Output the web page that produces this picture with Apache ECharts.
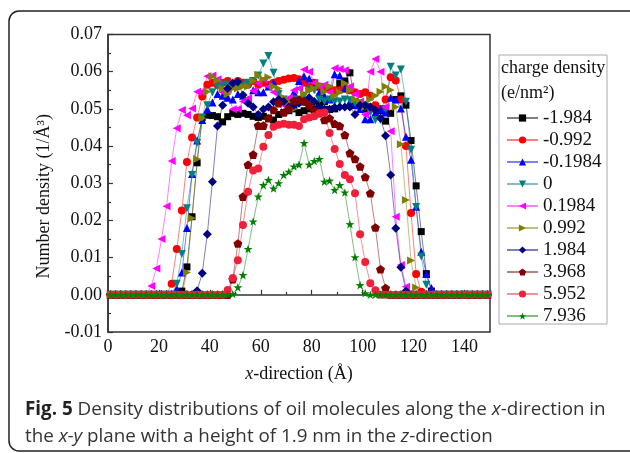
<!DOCTYPE html>
<html>
<head>
<meta charset="utf-8">
<script src="https://cdn.jsdelivr.net/npm/echarts@6/dist/echarts.min.js"></script>
<style>
  html, body { margin: 0; padding: 0; background: #fff; }
  #chart { width: 630px; height: 453px; }
</style>
</head>
<body>
<div id="chart"></div>
<script>
// x positions (Å)
const xs = [1,3,5,7,9,11,13,15,17,19,21,23,25,27,29,
  31,33,35,37,39,41,43,45,47,49,51,53,55,57,59,
  61,63,65,67,69,71,73,75,77,79,81,83,85,87,89,
  91,93,95,97,99,101,103,105,107,109,111,113,115,117,119,
  121,123,125,127,129,131,133,135,137,139,141,143,145,147,149];

const chargeLabels = ['-1.984', '-0.992', '-0.1984', '0', '0.1984', '0.992', '1.984', '3.968', '5.952', '7.936'];

// number density (1/Å^3), one array per surface charge density
const dNeg1984 = [0,0,0,0,0,0,0,0,0,0,0,0,0,0,0.001,
  0.0075,0.021,0.0355,0.0477,0.0483,0.0482,0.0479,0.0465,0.0479,0.0488,0.0485,0.0488,0.0485,0.048,0.0477,
  0.048,0.0475,0.047,0.0485,0.049,0.0495,0.05,0.049,0.0495,0.05,0.05,0.051,0.052,0.0498,0.05,
  0.0568,0.0575,0.0597,0.052,0.051,0.05,0.0505,0.05,0.0495,0.0467,0.0488,0.0525,0.0535,0.051,0.0415,
  0.0293,0.017,0.0057,0.001,0,0,0,0,0,0,0,0,0,0,0];
const dNeg0992 = [0,0,0,0,0,0,0,0,0,0,0,0,0.003,0.0123,0.0227,
  0.0357,0.0423,0.0477,0.0533,0.0565,0.057,0.0565,0.057,0.0575,0.0565,0.0575,0.057,0.0565,0.0575,0.0565,
  0.057,0.0565,0.057,0.0575,0.0578,0.0582,0.0583,0.058,0.057,0.056,0.057,0.056,0.0555,0.0555,0.055,
  0.055,0.0555,0.055,0.0545,0.054,0.0545,0.0535,0.051,0.05,0.0525,0.0585,0.0576,0.0525,0.04,0.022,
  0.0056,0.0008,0,0,0,0,0,0,0,0,0,0,0,0,0];
const dNeg01984 = [0,0,0,0,0,0,0,0,0,0,0,0,0,0.0016,0.006,
  0.018,0.0325,0.0415,0.047,0.0499,0.0517,0.054,0.0535,0.053,0.0525,0.054,0.0535,0.0525,0.055,0.0545,
  0.0545,0.056,0.057,0.052,0.0525,0.0515,0.0545,0.0575,0.0588,0.0582,0.056,0.0545,0.0535,0.0525,0.0593,
  0.059,0.0555,0.052,0.051,0.05,0.0472,0.0472,0.049,0.05,0.049,0.053,0.0525,0.0501,0.0425,0.0363,
  0.0237,0.0116,0.0056,0.0018,0,0,0,0,0,0,0,0,0,0,0];
const dZero = [0,0,0,0,0,0,0,0,0,0,0,0,0,0.003,0.011,
  0.0233,0.0322,0.0408,0.0477,0.051,0.0545,0.056,0.0565,0.0565,0.056,0.0565,0.0565,0.057,0.0575,0.059,
  0.0622,0.0642,0.0597,0.054,0.0525,0.052,0.0525,0.052,0.0535,0.055,0.055,0.0525,0.052,0.0525,0.052,
  0.052,0.0525,0.0523,0.0515,0.051,0.0505,0.049,0.047,0.047,0.05,0.0613,0.059,0.0606,0.0519,0.039,
  0.0236,0.0103,0.0027,0,0,0,0,0,0,0,0,0,0,0,0];
const dPos01984 = [0,0,0,0,0,0,0,0,0.0024,0.0071,0.015,0.0238,0.036,0.0448,0.0497,
  0.0483,0.0501,0.0546,0.0546,0.0588,0.059,0.058,0.0545,0.0552,0.0499,0.05,0.052,0.0528,0.0549,0.0569,
  0.058,0.056,0.0545,0.052,0.051,0.053,0.055,0.0555,0.0606,0.06,0.057,0.056,0.0565,0.0545,0.0609,
  0.0607,0.0604,0.056,0.054,0.052,0.0485,0.06,0.0634,0.06,0.0505,0.044,0.021,0.008,0.0022,0,
  0,0,0,0,0,0,0,0,0,0,0,0,0,0,0];
const dPos0992 = [0,0,0,0,0,0,0,0,0,0,0,0,0,0,0,
  0.006,0.0206,0.0365,0.0475,0.0546,0.0588,0.0577,0.0555,0.054,0.0555,0.0555,0.056,0.056,0.0575,0.0591,
  0.058,0.0585,0.056,0.0555,0.053,0.052,0.05,0.0515,0.054,0.055,0.0555,0.0565,0.0546,0.056,0.0535,
  0.0545,0.0569,0.055,0.0525,0.052,0.0505,0.0525,0.0535,0.0546,0.056,0.0551,0.0505,0.0405,0.0255,0.0092,
  0.002,0,0,0,0,0,0,0,0,0,0,0,0,0,0];
const dPos1984 = [0,0,0,0,0,0,0,0,0,0,0,0,0,0,0,
  0,0,0.0011,0.0058,0.0163,0.0304,0.0454,0.051,0.0555,0.0569,0.0573,0.0537,0.0515,0.0505,0.0485,
  0.0499,0.0505,0.0519,0.0525,0.052,0.0505,0.051,0.0515,0.052,0.053,0.052,0.0505,0.05,0.0499,0.0504,
  0.0505,0.0505,0.0505,0.0485,0.051,0.051,0.0505,0.0497,0.0475,0.0428,0.0322,0.0179,0.0074,0.001,0,
  0,0,0,0,0,0,0,0,0,0,0,0,0,0,0];
const dPos3968 = [0,0,0,0,0,0,0,0,0,0,0,0,0,0,0,
  0,0,0,0,0,0,0,0,0,0.0042,0.0138,0.0264,0.035,0.0377,0.0455,
  0.0455,0.0475,0.0497,0.0515,0.049,0.05,0.0522,0.0525,0.052,0.051,0.0495,0.0488,0.047,0.0475,0.046,
  0.0454,0.043,0.0381,0.0365,0.0345,0.0317,0.0273,0.0181,0.0069,0.0018,0,0,0,0,0,
  0,0,0,0,0,0,0,0,0,0,0,0,0,0,0];
const dPos5952 = [0,0,0,0,0,0,0,0,0,0,0,0,0,0,0,
  0,0,0,0,0,0,0,0,0.0013,0.0045,0.0093,0.0188,0.0277,0.0334,0.034,
  0.0398,0.043,0.0452,0.0457,0.046,0.0457,0.0457,0.0454,0.0472,0.0477,0.048,0.0488,0.049,0.0435,0.0392,
  0.0352,0.0322,0.0311,0.0273,0.0163,0.0088,0.0031,0.0012,0,0,0,0,0,0,0,
  0,0,0,0,0,0,0,0,0,0,0,0,0,0,0];
const dPos7936 = [0,0,0,0,0,0,0,0,0,0,0,0,0,0,0,
  0,0,0,0,0,0,0,0,0,0.0002,0.002,0.0053,0.0123,0.0197,0.0264,
  0.0295,0.0309,0.0286,0.03,0.0322,0.0331,0.0345,0.035,0.0408,0.035,0.036,0.0365,0.0304,0.0307,0.0282,
  0.0295,0.0275,0.019,0.0101,0.0026,0.0004,0,0,0,0,0,0,0,0,0,
  0,0,0,0,0,0,0,0,0,0,0,0,0,0,0];

const yTicks = [-0.01, 0, 0.01, 0.02, 0.03, 0.04, 0.05, 0.06, 0.07];
const xTicks = [0, 20, 40, 60, 80, 100, 120, 140];

const PENTAGON = 'path://M50,0 L97.6,34.5 L79.4,90.5 L20.6,90.5 L2.4,34.5 Z';
const STAR = 'path://M50,0 L61.8,35.3 L98.9,35.5 L69.1,57.6 L80.2,93.1 L50,71.5 L19.8,93.1 L30.9,57.6 L1.1,35.5 L38.2,35.3 Z';

const allValues = [dNeg1984, dNeg0992, dNeg01984, dZero, dPos01984, dPos0992, dPos1984, dPos3968, dPos5952, dPos7936];
const colors = ['#000000', '#ff0000', '#0000ff', '#008080', '#ff00ff', '#808000', '#000080', '#800000', '#f0203a', '#008000'];
const symbols = [
  { symbol: 'rect', size: 7, rot: 0 },
  { symbol: 'circle', size: 8, rot: 0 },
  { symbol: 'triangle', size: 8, rot: 0 },
  { symbol: 'triangle', size: 8, rot: 180 },
  { symbol: 'triangle', size: 8, rot: 90 },
  { symbol: 'triangle', size: 8, rot: -90 },
  { symbol: 'diamond', size: 9, rot: 0 },
  { symbol: PENTAGON, size: 9, rot: 0 },
  { symbol: 'circle', size: 8, rot: 0 },
  { symbol: STAR, size: 9, rot: 0 }
];

const SERIF = "'Liberation Serif', 'Times New Roman', serif";
const SANS = "'Open Sans', 'Noto Sans', sans-serif";
const chart = echarts.init(document.getElementById('chart'));

const series = allValues.map((vals, i) => ({
  name: chargeLabels[i],
  type: 'line',
  data: xs.map((x, j) => [x, vals[j]]),
  symbol: symbols[i].symbol,
  symbolSize: symbols[i].size,
  symbolRotate: symbols[i].rot,
  symbolKeepAspect: true,
  showAllSymbol: true,
  animation: false,
  itemStyle: { color: colors[i] },
  lineStyle: { color: colors[i], width: 1, opacity: 0.5 }
}));

chart.setOption({
  backgroundColor: '#fff',
  animation: false,
  grid: {
    left: 108, top: 34.5, right: 140, bottom: 121,
    show: true, borderColor: '#333', borderWidth: 1.5, backgroundColor: 'transparent'
  },
  xAxis: {
    type: 'value',
    min: 0, max: 150, interval: 20,
    name: '{i|x}-direction (Å)',
    nameLocation: 'middle',
    nameGap: 33,
    nameTextStyle: {
      fontFamily: SERIF, fontSize: 18, color: '#111',
      rich: { i: { fontFamily: SERIF, fontSize: 18, fontStyle: 'italic', color: '#111' } }
    },
    axisLine: { lineStyle: { color: '#333', width: 1.5 } },
    axisTick: { inside: true, length: 5, lineStyle: { color: '#333', width: 1.2 } },
    minorTick: { show: true, splitNumber: 2, length: 3, lineStyle: { color: '#333', width: 1.2 } },
    splitLine: { show: false },
    axisLabel: {
      fontFamily: SERIF, fontSize: 18, color: '#111', margin: 6,
      formatter: v => (xTicks.includes(v) ? String(v) : '')
    }
  },
  yAxis: {
    type: 'value',
    min: -0.01, max: 0.07, interval: 0.01,
    name: 'Number density (1/Å³)',
    nameLocation: 'middle',
    nameGap: 48,
    nameTextStyle: { fontFamily: SERIF, fontSize: 18, color: '#111', padding: [0, 26, 0, 0] },
    axisLine: { lineStyle: { color: '#333', width: 1.5 } },
    axisTick: { inside: true, length: 5, lineStyle: { color: '#333', width: 1.2 } },
    minorTick: { show: true, splitNumber: 2, length: 3, lineStyle: { color: '#333', width: 1.2 } },
    splitLine: { show: false },
    axisLabel: {
      fontFamily: SERIF, fontSize: 18, color: '#111', margin: 6,
      formatter: v => {
        const t = yTicks.find(k => Math.abs(k - v) < 1e-9);
        return t === undefined ? '' : t.toFixed(2);
      }
    }
  },
  legend: {
    orient: 'vertical',
    left: 501, top: 102,
    itemWidth: 31, itemHeight: 9, itemGap: 0,
    data: chargeLabels,
    textStyle: { fontFamily: SERIF, fontSize: 19, color: '#111', lineHeight: 22 },
    selectedMode: false
  },
  graphic: [
    {
      type: 'rect', z: -1, silent: true,
      shape: { x: 9, y: 11, width: 640, height: 440, r: 10 },
      style: { fill: 'none', stroke: '#222', lineWidth: 1.5 }
    },
    {
      type: 'rect', silent: true,
      shape: { x: 499, y: 55, width: 108, height: 269 },
      style: { fill: 'none', stroke: '#aaa', lineWidth: 1 }
    },
    {
      type: 'text', left: 501, top: 59, silent: true,
      style: { text: 'charge density', fontFamily: SERIF, fontSize: 18, fill: '#111' }
    },
    {
      type: 'text', left: 501, top: 84, silent: true,
      style: { text: '(e/nm²)', fontFamily: SERIF, fontSize: 18, fill: '#111' }
    },
    {
      type: 'text', left: 25, top: 400, silent: true,
      style: {
        text: '{b|Fig. 5} Density distributions of oil molecules along the {i|x}-direction in',
        fontFamily: SANS, fontSize: 18.8, fill: '#333',
        rich: {
          b: { fontFamily: SANS, fontSize: 18.8, fontWeight: 'bold', fill: '#222' },
          i: { fontFamily: SANS, fontSize: 18.8, fontStyle: 'italic', fill: '#333' }
        }
      }
    },
    {
      type: 'text', left: 25, top: 427, silent: true,
      style: {
        text: 'the {i|x-y} plane with a height of 1.9 nm in the {i|z}-direction',
        fontFamily: SANS, fontSize: 18.8, fill: '#333',
        rich: {
          i: { fontFamily: SANS, fontSize: 18.8, fontStyle: 'italic', fill: '#333' }
        }
      }
    }
  ],
  series: series
});
</script>
</body>
</html>
